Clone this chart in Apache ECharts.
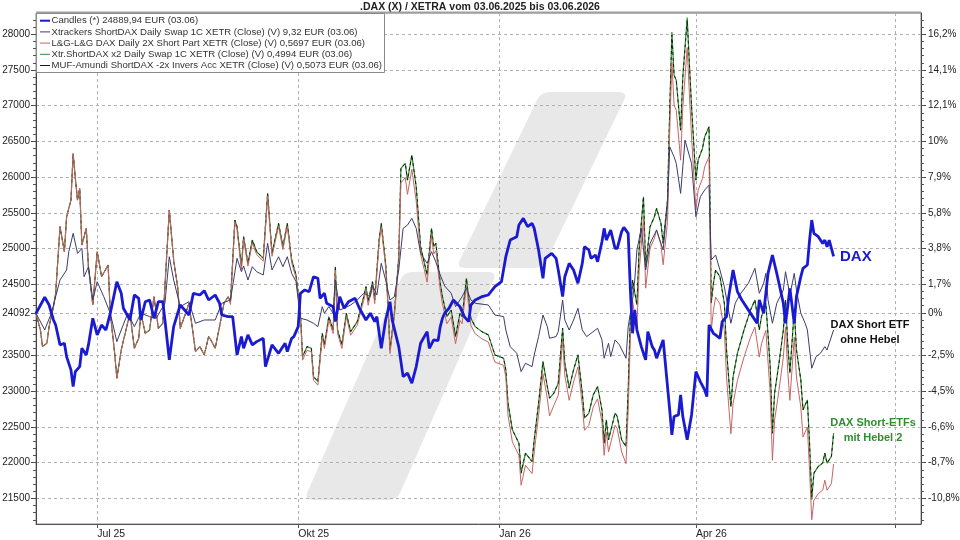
<!DOCTYPE html>
<html><head><meta charset="utf-8">
<script src="https://cdn.jsdelivr.net/npm/echarts@6/dist/echarts.min.js"></script>
<style>html,body{margin:0;padding:0;background:#fff}#c{width:960px;height:540px}</style>
</head><body><div id="c"></div>
<script>
// ---- data (x = days since 03.06.2025, y = chart value, DAX points) ----
const titleText = '.DAX (X) / XETRA vom 03.06.2025 bis 03.06.2026';
const legendNames = [
  'Candles (*) 24889,94 EUR (03.06)',
  'Xtrackers ShortDAX Daily Swap 1C XETR (Close) (V) 9,32 EUR (03.06)',
  'L&G-L&G DAX Daily 2X Short Part XETR (Close) (V) 0,5697 EUR (03.06)',
  'Xtr.ShortDAX x2 Daily Swap 1C XETR (Close) (V) 0,4994 EUR (03.06)',
  'MUF-Amundi ShortDAX -2x Invers Acc XETR (Close) (V) 0,5073 EUR (03.06)'
];
const leftTicks = [28000,27500,27000,26500,26000,25500,25000,24500,24092,23500,23000,22500,22000,21500];
const rightLabels = ['16,2%','14,1%','12,1%','10%','7,9%','5,8%','3,8%','1,7%','0%','-2,5%','-4,5%','-6,6%','-8,7%','-10,8%'];
const startDate = '2025-06-03';
const axisEndDate = '2026-07-13';
const quarterDates = ['2025-07-01','2025-10-01','2026-01-01','2026-04-01','2026-07-01'];
const quarterLabels = ['Jul 25','Okt 25','Jan 26','Apr 26',''];

const daxPoints = [[0,24092],[4,24317],[6,24209],[8,23999],[9,23929],[11,23649],[13,23673],[14,23486],[16,23300],[17,23066],[18,23276],[20,23346],[21,23604],[23,23510],[24,23650],[26,24023],[27,23906],[28,23790],[30,23929],[32,23859],[34,24093],[37,24535],[39,24373],[40,24163],[43,23999],[45,24349],[47,24303],[48,23999],[50,24255],[52,24279],[54,24023],[56,24255],[58,24255],[59,23999],[61,23440],[63,23906],[66,24209],[70,24069],[72,24373],[75,24349],[77,24409],[79,24279],[82,24349],[84,24233],[85,24069],[88,24045],[90,24045],[92,23510],[94,23766],[95,23603],[97,23790],[99,23650],[101,23696],[104,23743],[105,23346],[108,23650],[111,23533],[114,23673],[115,23556],[117,23743],[118,23766],[120,23906],[121,24373],[123,24419],[125,24395],[127,24605],[129,24582],[130,24303],[132,24373],[133,24233],[136,24186],[137,23976],[139,24326],[141,24163],[143,24255],[146,24303],[148,24163],[151,23999],[153,24093],[155,23976],[156,24046],[158,23603],[160,23999],[162,24255],[163,23999],[166,23626],[168,23206],[170,23254],[172,23114],[174,23346],[176,23673],[179,23836],[180,23603],[182,23720],[184,23710],[185,23906],[186,24023],[187,24093],[189,24163],[191,24279],[194,24186],[196,24046],[198,23976],[199,24209],[201,24279],[204,24326],[207,24349],[210,24465],[213,24535],[215,24885],[217,25118],[220,25165],[221,25328],[223,25422],[225,25305],[227,25352],[228,25282],[230,24979],[232,24583],[233,24862],[236,24932],[238,24862],[239,24699],[241,24326],[242,24605],[244,24792],[246,24699],[248,24513],[250,24792],[251,25025],[253,24979],[254,24862],[256,24909],[257,24815],[259,25095],[260,25282],[261,25118],[263,25258],[265,25002],[266,25002],[268,25235],[269,25296],[271,25212],[272,24419],[273,23813],[274,24139],[275,23859],[277,23626],[279,23440],[280,23836],[282,23626],[283,23580],[284,23464],[287,23720],[288,23394],[290,22740],[291,22390],[292,22647],[294,22670],[295,22950],[296,22647],[298,22321],[300,22670],[302,23276],[304,23136],[306,23020],[307,22926],[308,23929],[310,23813],[311,23790],[313,23743],[314,23976],[316,24046],[317,24326],[319,24699],[321,24395],[323,24279],[325,24186],[328,24046],[330,23953],[331,24279],[333,24093],[335,24652],[337,24909],[339,24652],[340,24513],[342,24233],[343,23953],[344,24186],[345,24442],[347,23953],[348,24326],[350,24605],[351,24722],[353,24769],[354,25118],[355,25398],[356,25212],[358,25165],[360,25072],[361,25118],[362,25025],[363,25118],[365,24890]];

const short1xPoints = [[0,24092],[4,23860],[7,24093],[11,24559],[14,24699],[15,24955],[17,25212],[19,24932],[21,25002],[22,24605],[24,24745],[26,24279],[28,24535],[31,24326],[34,24093],[37,23696],[39,23859],[42,24093],[45,23906],[48,24093],[52,24046],[55,24023],[59,24233],[61,24885],[63,24559],[66,24186],[70,24255],[73,23953],[77,23999],[82,23999],[85,24233],[89,24279],[92,24862],[94,24675],[95,24755],[97,24559],[99,24745],[101,24675],[104,24629],[106,25072],[108,24699],[111,24885],[113,24745],[115,24885],[117,24652],[119,24535],[121,24023],[124,23999],[127,23953],[129,23906],[131,24186],[132,24093],[134,24186],[136,24093],[137,24559],[139,24139],[141,24163],[144,24209],[147,24279],[150,24373],[153,24326],[154,24489],[156,24349],[158,24792],[160,24559],[162,24279],[164,24326],[166,24699],[168,25282],[170,25328],[172,25422],[174,25282],[176,24932],[179,24792],[181,24955],[183,24811],[185,24629],[187,24475],[190,24373],[192,24186],[195,24326],[197,24443],[199,24279],[201,24233],[207,24209],[210,24069],[214,24046],[215,23859],[217,23626],[220,23533],[222,23276],[224,23393],[227,23346],[228,23510],[230,23766],[232,24069],[234,23906],[235,23743],[238,23766],[239,23836],[241,24279],[242,23999],[244,23859],[246,23999],[248,24163],[250,23859],[252,23766],[254,23813],[257,23883],[259,23720],[260,23463],[262,23673],[263,23486],[265,23720],[267,23650],[270,23463],[271,23902],[273,24279],[274,24559],[275,24979],[277,25286],[279,24699],[281,25072],[284,25258],[286,25072],[287,24979],[289,25632],[290,26424],[292,26284],[293,26191],[295,25772],[297,26517],[300,26191],[302,25444],[304,25724],[306,25818],[308,25888],[309,24839],[311,24909],[313,24699],[315,24465],[318,23953],[320,24233],[322,24349],[326,24513],[328,24652],[329,24722],[331,24373],[333,24513],[334,24652],[335,24279],[337,23953],[339,24233],[342,24419],[343,24675],[344,24513],[345,24349],[347,24652],[348,24419],[350,24093],[352,23953],[353,23859],[355,23323],[357,23486],[359,23533],[361,23626],[362,23580],[363,23673],[365,23859]];

const xtr2xPoints = [[0,24092],[2,23860],[3,23626],[5,23673],[6,23906],[8,24186],[9,24373],[11,25305],[13,24955],[14,25444],[16,25678],[17,26331],[18,25982],[19,25678],[20,25842],[21,25049],[23,25282],[24,24745],[26,24209],[28,24955],[30,24605],[33,24769],[34,24093],[36,23533],[37,23184],[39,23580],[43,24093],[45,23603],[47,23743],[48,24093],[50,23813],[52,23859],[54,24326],[56,23883],[58,23953],[59,24465],[61,25538],[63,24839],[65,24419],[66,23883],[69,24139],[70,24233],[73,23556],[75,23626],[77,23510],[79,23766],[80,23720],[82,23603],[84,23906],[86,24233],[88,24326],[89,24255],[91,25398],[92,25305],[94,24745],[95,25165],[97,24792],[99,25118],[101,24955],[104,24862],[106,25772],[108,24932],[111,25352],[113,25025],[115,25352],[117,24839],[119,24629],[121,24093],[122,23486],[124,23626],[126,23603],[127,23206],[129,23136],[131,23813],[132,23650],[134,24046],[136,23859],[137,24745],[138,23859],[140,23650],[142,24093],[144,23836],[147,23976],[150,24326],[151,24465],[152,24255],[154,24535],[155,24279],[157,25118],[158,25352],[160,24792],[161,24279],[162,23580],[164,24093],[166,24885],[167,26122],[169,26192],[170,25958],[172,26308],[174,25864],[176,25025],[179,24629],[181,25282],[182,25025],[183,25072],[185,24513],[186,24326],[188,24046],[190,24139],[192,23766],[194,24093],[195,24046],[197,24582],[199,24023],[201,23906],[204,23836],[207,23790],[210,23510],[214,23463],[215,23300],[216,22834],[218,22461],[221,22274],[222,21855],[224,22135],[227,22017],[228,22321],[230,22834],[232,23416],[234,23066],[235,22904],[237,22974],[239,23114],[241,23883],[242,23393],[244,23044],[246,23300],[248,23510],[250,22974],[251,22624],[253,22694],[255,22950],[257,23066],[259,22740],[260,22274],[261,22600],[262,22321],[265,22694],[266,22647],[268,22321],[270,22227],[271,23020],[272,24046],[273,24559],[275,24209],[276,24979],[278,25724],[279,24745],[281,25305],[283,25444],[284,25562],[286,25352],[287,25072],[289,25678],[290,26937],[291,28033],[292,27427],[293,27357],[295,26657],[296,27403],[298,28234],[299,27590],[300,26983],[302,25958],[303,26238],[305,26401],[306,26564],[308,26704],[309,24233],[310,24513],[311,24699],[313,24605],[315,24233],[316,23580],[318,22786],[319,23206],[321,23533],[324,23859],[327,24139],[329,24279],[331,23859],[332,24046],[334,24233],[336,23346],[337,22414],[338,22974],[340,23393],[342,23859],[343,24279],[344,23673],[345,23254],[347,24139],[348,23580],[350,23160],[351,22740],[353,22880],[354,22274],[355,21481],[356,21855],[358,21948],[360,21995],[361,22135],[362,21995],[364,22088],[365,22414]];

const mufPoints = [[0,24092],[2,23860],[3,23626],[5,23673],[6,23906],[8,24186],[9,24373],[11,25305],[13,24955],[14,25444],[16,25678],[17,26331],[18,25982],[19,25678],[20,25842],[21,25049],[23,25282],[24,24745],[26,24209],[28,24955],[30,24605],[33,24769],[34,24093],[36,23533],[37,23184],[39,23580],[43,24093],[45,23603],[47,23743],[48,24093],[50,23813],[52,23859],[54,24326],[56,23883],[58,23953],[59,24465],[61,25538],[63,24839],[65,24419],[66,23883],[69,24139],[70,24233],[73,23556],[75,23626],[77,23510],[79,23766],[80,23720],[82,23603],[84,23906],[86,24233],[88,24326],[89,24255],[91,25398],[92,25305],[94,24745],[95,25165],[97,24792],[99,25118],[101,24955],[104,24862],[106,25772],[108,24932],[111,25352],[113,25025],[115,25352],[117,24839],[119,24629],[121,24093],[122,23486],[124,23626],[126,23603],[127,23206],[129,23136],[131,23813],[132,23650],[134,24046],[136,23859],[137,24745],[138,23859],[140,23650],[142,24093],[144,23836],[147,23976],[150,24326],[151,24465],[152,24255],[154,24535],[155,24279],[157,25118],[158,25352],[160,24792],[161,24279],[162,23580],[164,24093],[166,24885],[167,26122],[169,26192],[170,25958],[172,26308],[174,25864],[176,25025],[179,24629],[181,25282],[182,25025],[183,25072],[185,24513],[186,24326],[188,24046],[190,24139],[192,23766],[194,24093],[195,24046],[197,24582],[199,24023],[201,23906],[204,23836],[207,23790],[210,23510],[214,23463],[215,23300],[216,22834],[218,22461],[221,22274],[222,21855],[224,22135],[227,22017],[228,22321],[230,22834],[232,23416],[234,23066],[235,22904],[237,22974],[239,23114],[241,23883],[242,23393],[244,23044],[246,23300],[248,23510],[250,22974],[251,22624],[253,22694],[255,22950],[257,23066],[259,22740],[260,22274],[261,22600],[262,22321],[265,22694],[266,22647],[268,22321],[270,22227],[271,23020],[272,24046],[273,24559],[275,24209],[276,24979],[278,25724],[279,24745],[281,25305],[283,25444],[284,25562],[286,25352],[287,25072],[289,25678],[290,26937],[291,27990],[292,27427],[293,27357],[295,26657],[296,27403],[298,28200],[299,27590],[300,26983],[302,25958],[303,26238],[305,26401],[306,26564],[308,26704],[309,24233],[310,24513],[311,24699],[313,24605],[315,24233],[316,23580],[318,22786],[319,23206],[321,23533],[324,23859],[327,24139],[329,24279],[331,23859],[332,24046],[334,24233],[336,23346],[337,22414],[338,22974],[340,23393],[342,23859],[343,24279],[344,23673],[345,23254],[347,24139],[348,23580],[350,23160],[351,22740],[353,22880],[354,22274],[355,21520],[356,21855],[358,21948],[360,21995],[361,22135],[362,21995],[364,22088],[365,22414]];

const lgPoints = [[0,24092],[2,23860],[3,23626],[5,23673],[6,23906],[8,24186],[9,24373],[11,25305],[13,24955],[14,25444],[16,25678],[17,26331],[18,25982],[19,25678],[20,25842],[21,25049],[23,25282],[24,24745],[26,24209],[28,24955],[30,24605],[33,24769],[34,24093],[36,23533],[37,23184],[39,23580],[43,24093],[45,23603],[47,23743],[48,24093],[50,23813],[52,23859],[54,24326],[56,23883],[58,23953],[59,24465],[61,25538],[63,24839],[65,24419],[66,23883],[69,24139],[70,24233],[73,23556],[75,23626],[77,23510],[79,23766],[80,23720],[82,23603],[84,23906],[86,24233],[88,24326],[89,24215],[91,25358],[92,25265],[94,24705],[95,25125],[97,24752],[99,25078],[101,24915],[104,24822],[106,25732],[108,24892],[111,25312],[113,24985],[115,25312],[117,24799],[119,24589],[121,24043],[122,23436],[124,23576],[126,23553],[127,23156],[129,23086],[131,23763],[132,23600],[134,23996],[136,23809],[137,24695],[138,23809],[140,23600],[142,24043],[144,23786],[147,23926],[150,24276],[151,24415],[152,24205],[154,24485],[155,24229],[157,25068],[158,25302],[160,24742],[161,24229],[162,23530],[164,24043],[166,24835],[167,25922],[169,25992],[170,25758],[172,26108],[174,25664],[176,24925],[179,24529],[181,25182],[182,24925],[183,24972],[185,24413],[186,24226],[188,23946],[190,24039],[192,23666],[194,23993],[195,23946],[197,24482],[199,23923],[201,23806],[204,23736],[207,23690],[210,23410],[214,23363],[215,23200],[216,22664],[218,22291],[221,22104],[222,21685],[224,21965],[227,21847],[228,22151],[230,22664],[232,23246],[234,22896],[235,22654],[237,22804],[239,22944],[241,23713],[242,23223],[244,22874],[246,23130],[248,23340],[250,22804],[251,22454],[253,22524],[255,22780],[257,22896],[259,22570],[260,22104],[261,22430],[262,22151],[265,22524],[266,22477],[268,22151],[270,21987],[271,22720],[272,23746],[273,24259],[275,23909],[276,24679],[278,25424],[279,24445],[281,25005],[283,25144],[284,25262],[286,25052],[287,24772],[289,25378],[290,26637],[291,27613],[292,27007],[293,26937],[295,26237],[296,26983],[298,27814],[299,27170],[300,26563],[302,25538],[303,25818],[305,25981],[306,26144],[308,26284],[309,23853],[310,24133],[311,24319],[313,24225],[315,23853],[316,23200],[318,22406],[319,22826],[321,23153],[324,23479],[327,23759],[329,23899],[331,23479],[332,23666],[334,23853],[336,22966],[337,22034],[338,22594],[340,23013],[342,23479],[343,23899],[344,23293],[345,22874],[347,23759],[348,23200],[350,22780],[351,22360],[353,22500],[354,21894],[355,21201],[356,21475],[358,21568],[360,21615],[361,21755],[362,21615],[364,21708],[365,21980]];

// ---- build ----
const DAY = 86400000;
const dayOf = s => Math.round((Date.parse(s + 'T00:00:00Z') - Date.parse(startDate + 'T00:00:00Z')) / DAY);
const quarterDays = quarterDates.map(dayOf);
const axisEndDay = dayOf(axisEndDate);
const minorTicks = [];
for (let v = 21200; v <= 28200; v += 100) minorTicks.push(v);

const FONT = 'Liberation Sans, Arial, sans-serif';
const C_DAX = '#1a1ad2', C_1X = '#3c3c6c', C_LG = '#c96464', C_X2 = '#2f8f2f', C_MUF = '#1a1a1a';

// rounded-corner outline for the decorative watermark (screen pixels, not data)
function roundedPts(pts, r) {
  const n = pts.length, out = [];
  for (let i = 0; i < n; i++) {
    const p = pts[i], a = pts[(i - 1 + n) % n], b = pts[(i + 1) % n];
    const da = Math.hypot(a[0] - p[0], a[1] - p[1]), db = Math.hypot(b[0] - p[0], b[1] - p[1]);
    const s = [p[0] + (a[0] - p[0]) * r / da, p[1] + (a[1] - p[1]) * r / da];
    const e = [p[0] + (b[0] - p[0]) * r / db, p[1] + (b[1] - p[1]) * r / db];
    for (let k = 0; k <= 6; k++) {
      const t = k / 6, u = 1 - t;
      out.push([u * u * s[0] + 2 * u * t * p[0] + t * t * e[0], u * u * s[1] + 2 * u * t * p[1] + t * t * e[1]]);
    }
  }
  return out;
}

const chart = echarts.init(document.getElementById('c'), null, {renderer: 'canvas', width: 960, height: 540});

const yBase = {type: 'value', min: 21142, max: 28298};
const legendColors = [C_DAX, C_1X, C_LG, C_X2, C_MUF];

const legendEls = [{type: 'rect', shape: {x: 36.5, y: 13.5, width: 348, height: 59}, style: {fill: '#fff', stroke: '#8a8a8a', lineWidth: 1}, z: 100}];
legendNames.forEach((n, i) => {
  const y = 20.7 + i * 11.2;
  legendEls.push({type: 'line', shape: {x1: 40, y1: y, x2: 50, y2: y}, style: {stroke: legendColors[i], lineWidth: i === 0 ? 2 : 1}, z: 101});
  legendEls.push({type: 'text', x: 51.5, y: y, style: {text: n, fill: '#333', font: '9.6px ' + FONT, textVerticalAlign: 'middle'}, z: 101});
});

const lineSeries = (name, pts, color, width, type) => ({
  name, type: 'line', data: pts, showSymbol: false, silent: true, xAxisIndex: 0, yAxisIndex: 0,
  lineStyle: {color, width, type: type || 'solid'}
});

const option = {
  animation: false,
  backgroundColor: '#fff',
  title: {text: titleText, left: 'center', top: -3, textStyle: {fontSize: 10.5, fontWeight: 'bold', color: '#222', fontFamily: FONT}},
  grid: {left: 36, right: 39, top: 13, bottom: 16, containLabel: false, outerBoundsMode: 'none', show: true, borderColor: '#8a8a8a', borderWidth: 1, backgroundColor: 'transparent'},
  xAxis: {
    type: 'value', min: 0, max: axisEndDay,
    axisLine: {show: true, lineStyle: {color: '#555'}},
    axisTick: {show: true, customValues: quarterDays, length: 4, lineStyle: {color: '#555'}},
    axisLabel: {customValues: quarterDays.slice(0, 4), align: 'left', fontSize: 10.5, color: '#222', fontFamily: FONT, margin: 5,
      formatter: v => { const i = quarterDays.indexOf(Math.round(v)); return i >= 0 ? quarterLabels[i] : ''; }},
    splitLine: {show: true, lineStyle: {type: [3, 3], color: '#b0b0b0', width: 1}}
  },
  yAxis: [
    Object.assign({}, yBase, {position: 'left', offset: 0,
      axisLine: {show: true, lineStyle: {color: '#444'}},
      axisTick: {show: true, customValues: leftTicks, length: 5, lineStyle: {color: '#444'}},
      axisLabel: {customValues: leftTicks, fontSize: 10, color: '#222', fontFamily: FONT, margin: 6, formatter: v => String(Math.round(v))},
      splitLine: {show: true, lineStyle: {type: [3, 3], color: '#b0b0b0', width: 1}}}),
    Object.assign({}, yBase, {position: 'right', offset: 0,
      axisLine: {show: true, lineStyle: {color: '#444'}},
      axisTick: {show: true, customValues: leftTicks, length: 5, lineStyle: {color: '#444'}},
      axisLabel: {customValues: leftTicks, fontSize: 10, color: '#222', fontFamily: FONT, margin: 7,
        formatter: v => { const i = leftTicks.findIndex(t => Math.abs(t - v) < 0.5); return i >= 0 ? rightLabels[i] : ''; }},
      splitLine: {show: false}}),
    Object.assign({}, yBase, {position: 'left', offset: 0, axisLine: {show: false}, axisLabel: {show: false}, splitLine: {show: false},
      axisTick: {show: true, customValues: minorTicks, length: 3, lineStyle: {color: '#555'}}}),
    Object.assign({}, yBase, {position: 'right', offset: 0, axisLine: {show: false}, axisLabel: {show: false}, splitLine: {show: false},
      axisTick: {show: true, customValues: minorTicks, length: 3, lineStyle: {color: '#555'}}})
  ],
  graphic: {elements: [
    {type: 'polygon', shape: {points: roundedPts([[541, 92], [628, 92], [543, 268], [456, 268]], 9)}, style: {fill: '#e8e8e8'}, z: -1},
    {type: 'polygon', shape: {points: roundedPts([[404, 272], [497, 272], [397, 500], [304, 500]], 9)}, style: {fill: '#e8e8e8'}, z: -1},
    {type: 'line', shape: {x1: 36, y1: 12.5, x2: 921, y2: 12.5}, style: {stroke: '#a0a0a0', lineWidth: 2}, z: 60},
    ...legendEls,
    {type: 'text', x: 840, y: 257, style: {text: 'DAX', fill: C_DAX, font: 'bold 15px ' + FONT, textVerticalAlign: 'middle'}, z: 50},
    {type: 'text', x: 870, y: 325, style: {text: 'DAX Short ETF', fill: '#111', font: 'bold 11px ' + FONT, textAlign: 'center', textVerticalAlign: 'middle'}, z: 50},
    {type: 'text', x: 870, y: 340, style: {text: 'ohne Hebel', fill: '#111', font: 'bold 11px ' + FONT, textAlign: 'center', textVerticalAlign: 'middle'}, z: 50},
    {type: 'text', x: 873, y: 423, style: {text: 'DAX Short-ETFs', fill: C_X2, font: 'bold 11px ' + FONT, textAlign: 'center', textVerticalAlign: 'middle'}, z: 50},
    {type: 'text', x: 873, y: 438, style: {text: 'mit Hebel 2', fill: C_X2, font: 'bold 11px ' + FONT, textAlign: 'center', textVerticalAlign: 'middle'}, z: 50}
  ]},
  series: [
    lineSeries(legendNames[3], xtr2xPoints, C_X2, 1.2),
    lineSeries(legendNames[4], mufPoints, C_MUF, 1, [3, 3]),
    lineSeries(legendNames[2], lgPoints, C_LG, 1),
    lineSeries(legendNames[1], short1xPoints, C_1X, 1),
    lineSeries(legendNames[0], daxPoints, C_DAX, 2.8)
  ]
};
chart.setOption(option);
</script></body></html>
